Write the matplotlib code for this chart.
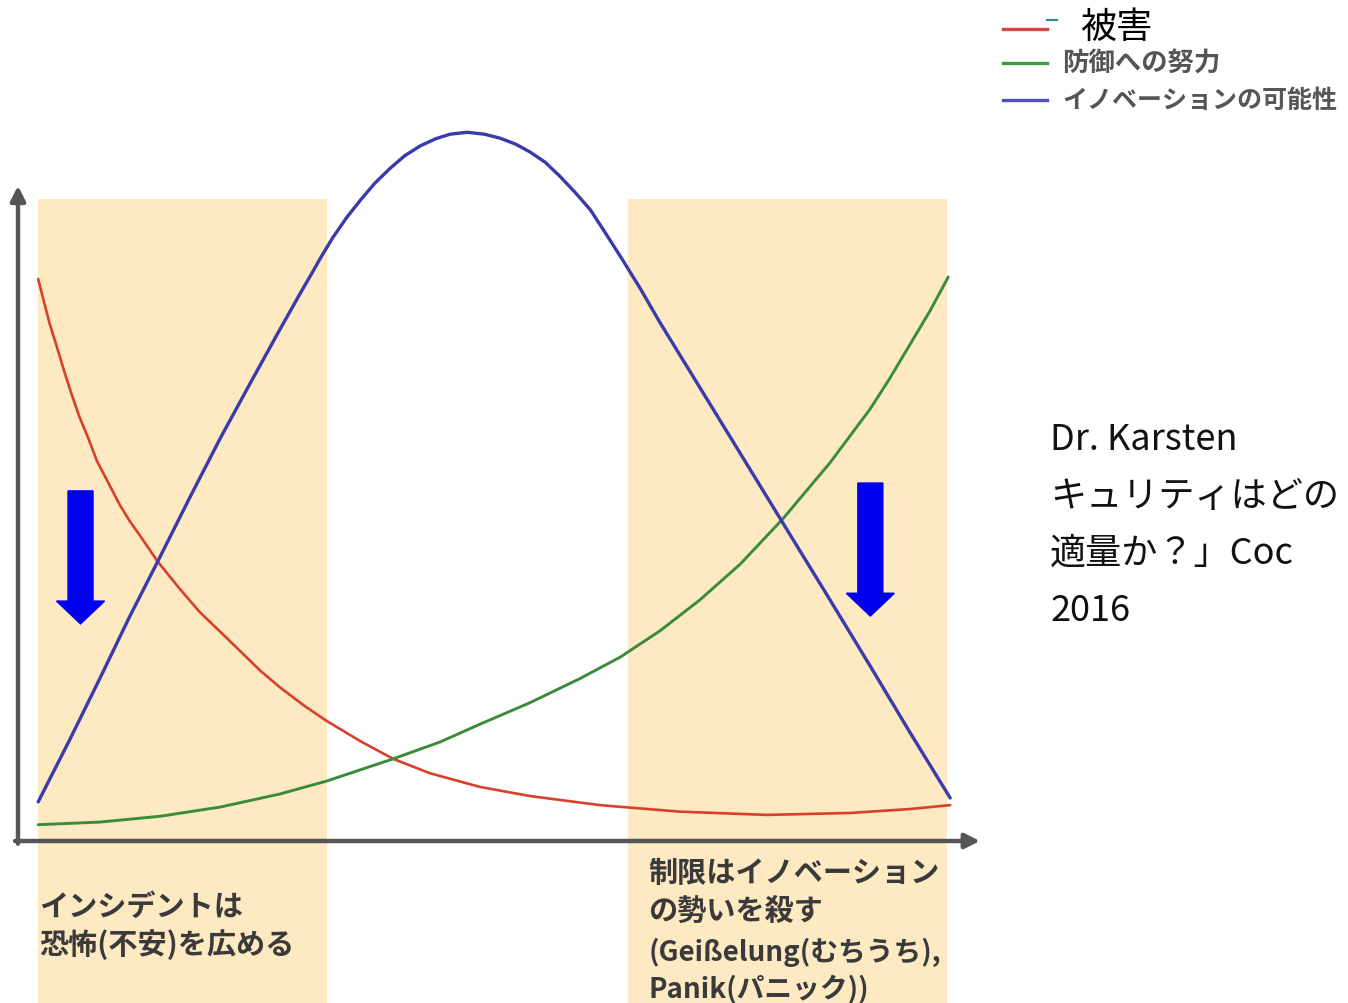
import matplotlib
matplotlib.use("Agg")
import matplotlib.pyplot as plt
from matplotlib.lines import Line2D

plt.rcParams['font.family'] = ['Noto Sans CJK JP', 'DejaVu Sans']

# curves (x: 0..100 along the axis, y: 0 = axis line)
damage_x = [2.1, 2.7, 3.3, 4.1, 4.9, 5.6, 6.4, 7.3, 8.2, 9.4, 10.6, 11.6, 12.7, 14.5,
            16.8, 18.9, 22.0, 25.2, 27.2, 29.8, 32.1, 35.6, 39.0, 42.8, 48.0, 53.2,
            60.5, 68.8, 77.9, 86.5, 92.7, 96.9]
damage_y = [86.2, 82.7, 79.3, 75.5, 71.6, 68.4, 65.0, 61.8, 58.3, 54.9, 51.5, 49.1, 46.8,
            42.9, 38.7, 35.1, 30.7, 26.1, 23.6, 20.7, 18.4, 15.3, 12.6, 10.4, 8.3, 6.9,
            5.5, 4.5, 4.0, 4.3, 4.9, 5.5]

defense_x = [2.1, 8.5, 14.8, 21.0, 27.2, 32.1, 39.0, 43.9, 48.0, 53.2, 58.4, 62.6, 66.7,
             70.9, 75.1, 79.5, 84.4, 88.6, 90.6, 92.7, 94.8, 96.7]
defense_y = [2.5, 2.9, 3.8, 5.2, 7.2, 9.2, 12.6, 15.2, 17.9, 21.2, 24.9, 28.2, 32.2,
             37.0, 42.5, 49.4, 58.0, 66.3, 70.9, 76.1, 81.3, 86.5]

innov_x = [2.1, 5.4, 8.5, 11.6, 14.5, 17.9, 21.0, 24.1, 26.9, 29.3, 30.4, 31.4, 32.7,
           34.2, 35.6, 37.1, 38.7, 40.2, 41.8, 43.4, 44.9, 46.7, 48.5, 50.1, 51.7,
           53.2, 54.8, 56.3, 57.9, 59.5, 61.0, 62.9, 64.7, 66.7, 70.9, 75.1, 79.5,
           84.4, 88.6, 92.7, 96.9]
innov_y = [6.0, 15.6, 24.9, 34.4, 42.8, 52.8, 61.7, 70.1, 77.6, 83.9, 86.7, 89.3, 92.5,
           95.7, 98.3, 100.9, 103.2, 105.1, 106.6, 107.7, 108.4, 108.7, 108.4, 107.8,
           106.9, 105.7, 104.1, 102.0, 99.5, 96.8, 93.4, 89.0, 84.7, 79.6, 69.5, 59.4,
           48.8, 37.0, 26.8, 16.7, 6.6]

labels = ['被害', '防御への努力', 'イノベーションの可能性']
colors = ['#d8402c', '#3a8c3a', '#3a3aab']
legend_colors = ['#d04545', '#3f9a3f', '#4f4fbf']

# shaded regions and arrows
band_start = [2.1, 63.4]
band_end = [32.1, 96.6]
band_top = 98.5
arrow_x = [6.5, 88.6]
arrow_top = [53.7, 54.9]
arrow_tip = [33.3, 34.5]

left_note = ['インシデントは', '恐怖(不安)を広める']
right_note = ['制限はイノベーション', 'の勢いを殺す', '(Geißelung(むちうち),', 'Panik(パニック))']
source_lines = ['Dr. Karsten', 'キュリティはどの', '適量か？」Coc', '2016']


def main():
    fig = plt.figure(figsize=(13.48, 10.04), dpi=100)
    ax = fig.add_axes([0, 0, 1, 1])
    # axis origin sits at (18, 842) px, x=100 at 980 px, y=100 at 190 px
    ax.set_xlim(-18 / 9.62, 1330 / 9.62)
    ax.set_ylim(-162 / 6.52, 842 / 6.52)
    ax.axis('off')

    y_bottom = ax.get_ylim()[0]
    for s, e in zip(band_start, band_end):
        ax.bar(s, band_top - y_bottom, width=e - s, bottom=y_bottom, align='edge',
               color='#fde9c2', linewidth=0, zorder=1)

    for x, top, tip in zip(arrow_x, arrow_top, arrow_tip):
        ax.arrow(x, top, 0, tip - top, width=2.6, head_width=5.0, head_length=3.5,
                 length_includes_head=True, color='#0000f0', zorder=4)

    # axes with arrow heads
    ax.annotate('', xy=(100, 0), xytext=(-0.3, 0),
                arrowprops=dict(arrowstyle='-|>', color='#555555', lw=3.2,
                                mutation_scale=22, shrinkA=0, shrinkB=0), zorder=3)
    ax.annotate('', xy=(0, 100.5), xytext=(0, -0.4),
                arrowprops=dict(arrowstyle='-|>', color='#555555', lw=3.2,
                                mutation_scale=22, shrinkA=0, shrinkB=0), zorder=3)

    ax.plot(damage_x, damage_y, color=colors[0], lw=1.9, zorder=5,
            solid_capstyle='round', solid_joinstyle='round')
    ax.plot(defense_x, defense_y, color=colors[1], lw=2.1, zorder=5,
            solid_capstyle='round', solid_joinstyle='round')
    ax.plot(innov_x, innov_y, color=colors[2], lw=2.4, zorder=6,
            solid_capstyle='round', solid_joinstyle='round')

    # legend, drawn by hand to keep the odd mix of sizes
    rows_y = [0.970, 0.936, 0.899]
    for c, yy in zip(legend_colors, rows_y):
        fig.add_artist(Line2D([0.744, 0.777], [yy, yy], color=c, lw=2.4,
                              transform=fig.transFigure))
    fig.add_artist(Line2D([0.777, 0.784], [0.979, 0.979], color='#2a8a9a', lw=1.5,
                          transform=fig.transFigure))
    fig.text(0.801, 0.972, labels[0], fontsize=26, color='black', va='center')
    fig.text(0.788, 0.936, labels[1], fontsize=19, color='#555555',
             fontweight='bold', va='center')
    fig.text(0.788, 0.899, labels[2], fontsize=18, color='#555555',
             fontweight='bold', va='center')

    # source text on the right
    for i, line in enumerate(source_lines):
        fig.text(0.779, 0.562 - i * 0.0568, line, fontsize=26, color='#111111',
                 va='center')

    # notes under the bands
    for i, line in enumerate(left_note):
        fig.text(0.029, 0.097 - i * 0.038, line, fontsize=21, color='#3a3a3a',
                 fontweight='bold', va='center')
    note_y = [0.130, 0.093, 0.051, 0.015]
    note_size = [21, 21, 20, 20]
    for line, yy, fs in zip(right_note, note_y, note_size):
        fig.text(0.481, yy, line, fontsize=fs, color='#3a3a3a',
                 fontweight='bold', va='center')

    fig.savefig('out.png', dpi=100)


if __name__ == '__main__':
    main()
